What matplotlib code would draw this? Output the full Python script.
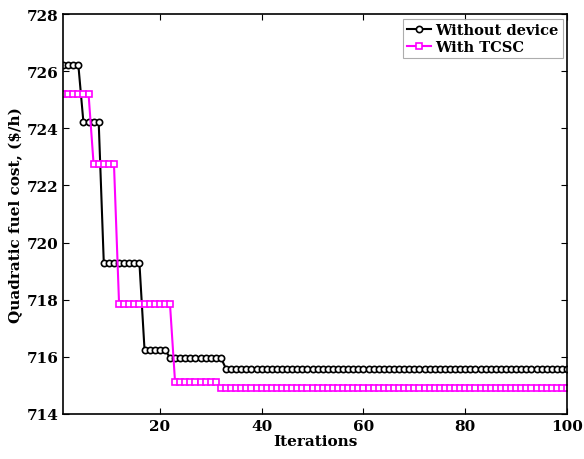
import numpy as np
import matplotlib
matplotlib.use("Agg")
import matplotlib.pyplot as plt

iterations = np.arange(1, 101)

# step levels (value, last iteration of that level)
without_levels = [726.22, 724.21, 719.28, 716.25, 715.97, 715.58]
without_ends = [4, 8, 16, 21, 32, 100]
tcsc_levels = [725.22, 722.74, 717.85, 715.11, 714.90]
tcsc_ends = [6, 11, 22, 31, 100]

def expand(levels, ends):
    vals = []
    start = 1
    for v, e in zip(levels, ends):
        vals += [v] * (e - start + 1)
        start = e + 1
    return np.array(vals)

without_device = expand(without_levels, without_ends)
with_tcsc = expand(tcsc_levels, tcsc_ends)

plt.rcParams['font.family'] = ['DejaVu Serif']
plt.rcParams['font.weight'] = 'bold'

fig = plt.figure(figsize=(5.84, 4.6), dpi=100)
ax = fig.add_axes([0.108, 0.098, 0.863, 0.869])

ax.plot(iterations, without_device, color='black', lw=1.5, marker='o', ms=4.5,
        mfc='white', mec='black', mew=1.2, label='Without device')
ax.plot(iterations, with_tcsc, color='#ff00ff', lw=1.5, marker='s', ms=4,
        mfc='white', mec='#ff00ff', mew=1.2, label='With TCSC')

ax.set_xlim(1, 100)
ax.set_ylim(714, 728)
ax.set_xticks([20, 40, 60, 80, 100])
ax.set_yticks(np.arange(714, 729, 2))
ax.tick_params(direction='in', top=True, right=True, labelsize=11, length=4)
for lab in ax.get_xticklabels() + ax.get_yticklabels():
    lab.set_fontweight('bold')
ax.set_xlabel('Iterations', fontsize=11, fontweight='bold', labelpad=1)
ax.set_ylabel('Quadratic fuel cost, ($/h)', fontsize=11, fontweight='bold', labelpad=2)
for s in ax.spines.values():
    s.set_linewidth(1.2)

leg = ax.legend(loc='upper right', fontsize=10.5, frameon=True, fancybox=False,
                borderaxespad=0.3, handlelength=1.6, handletextpad=0.3,
                borderpad=0.3, labelspacing=0.2)
leg.get_frame().set_edgecolor('#999999')
leg.get_frame().set_linewidth(0.8)
for t in leg.get_texts():
    t.set_fontweight('bold')

fig.savefig('out.png', dpi=100)
